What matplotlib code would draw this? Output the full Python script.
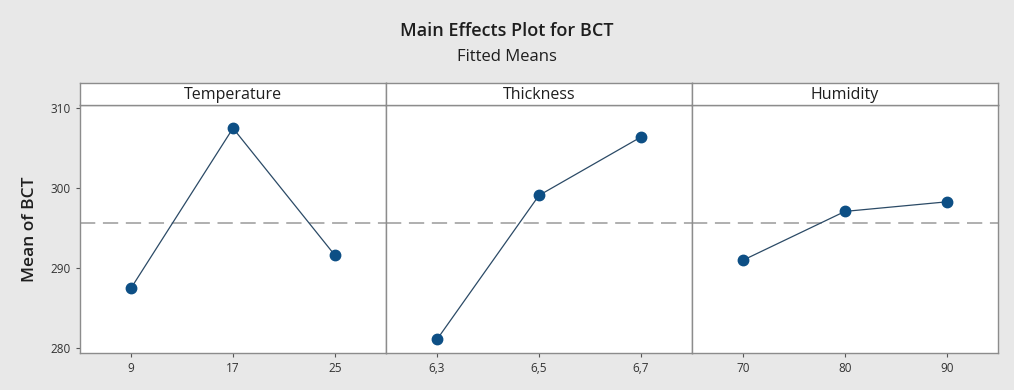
import matplotlib
matplotlib.use('Agg')
import matplotlib.pyplot as plt

plt.rcParams['font.family'] = ['Open Sans', 'DejaVu Sans']

# factor levels and fitted means
factors = ['Temperature', 'Thickness', 'Humidity']
temp_levels = [9, 17, 25]
temp_means = [287.5, 307.5, 291.6]
thick_levels = [6.3, 6.5, 6.7]
thick_labels = ['6,3', '6,5', '6,7']
thick_means = [281.1, 299.1, 306.4]
hum_levels = [70, 80, 90]
hum_means = [291.0, 297.1, 298.3]
overall_mean = 295.6
y_ticks = [280, 290, 300, 310]

levels = [temp_levels, thick_levels, hum_levels]
means = [temp_means, thick_means, hum_means]
labels = [[str(v) for v in temp_levels], thick_labels, [str(v) for v in hum_levels]]
xlims = [(5, 29), (6.2, 6.8), (65, 95)]

bg = '#e8e8e8'
edge = '#8c8c8c'
blue = '#0d4f85'

fig = plt.figure(figsize=(10.14, 3.9), dpi=100, facecolor=bg)

left = 80 / 1014
width = 306 / 1014
bottom = 37 / 390
height = 248 / 390
head_h = 22 / 390

fig.text(0.5, 1 - 31 / 390, 'Main Effects Plot for BCT', ha='center', va='center',
         fontsize=13, fontweight='semibold', color='#1e1e1e')
fig.text(0.5, 1 - 57 / 390, 'Fitted Means', ha='center', va='center',
         fontsize=12, fontweight='medium', color='#1e1e1e')

for i in range(3):
    ax = fig.add_axes([left + i * width, bottom, width, height])
    ax.set_facecolor('white')
    ax.plot(levels[i], means[i], color='#2b4a66', lw=0.9, zorder=2)
    ax.plot(levels[i], means[i], 'o', color=blue, ms=7.5, zorder=3)
    ax.axhline(overall_mean, color='#9a9a9a', lw=1.1, ls=(0, (10, 5)), zorder=1)
    ax.set_xlim(*xlims[i])
    ax.set_ylim(279.4, 310.4)
    ax.set_xticks(levels[i])
    ax.set_xticklabels(labels[i])
    ax.set_yticks(y_ticks)
    for s in ax.spines.values():
        s.set_color(edge)
        s.set_linewidth(1.0)
    ax.tick_params(axis='both', colors='#555555', labelcolor='#333333',
                   labelsize=8.5, length=3, width=0.8)
    if i > 0:
        ax.tick_params(axis='y', left=False, labelleft=False)
    if i == 0:
        ax.set_ylabel('Mean of BCT', fontsize=12.5, fontweight='semibold',
                      color='#1e1e1e', labelpad=9)

    hax = fig.add_axes([left + i * width, bottom + height, width, head_h])
    hax.set_facecolor('white')
    hax.set_xticks([])
    hax.set_yticks([])
    for s in hax.spines.values():
        s.set_color(edge)
        s.set_linewidth(1.0)
    hax.text(0.5, 0.45, factors[i], ha='center', va='center', fontsize=11.5,
             color='#1e1e1e', transform=hax.transAxes)

fig.savefig('out.png', dpi=100, facecolor=bg)
